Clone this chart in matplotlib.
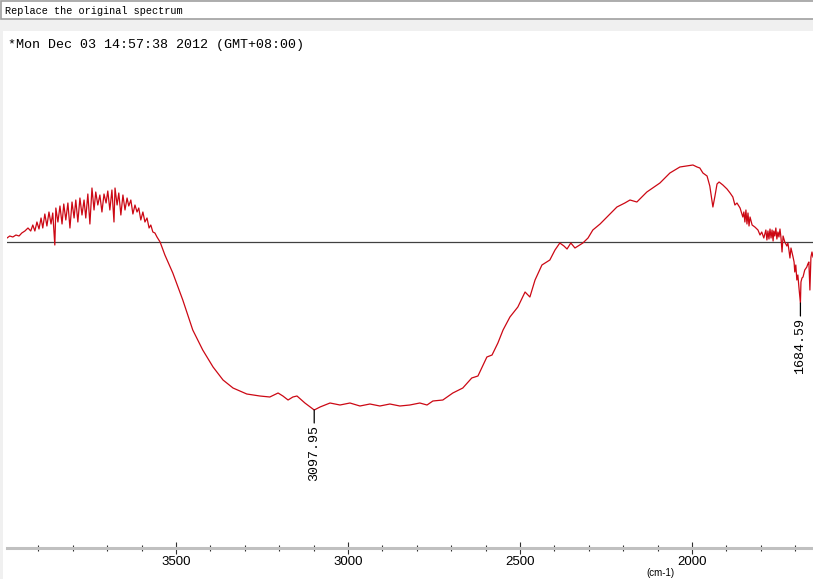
import matplotlib
matplotlib.use('Agg')
import matplotlib.pyplot as plt
from matplotlib.patches import Rectangle
from matplotlib.ticker import MultipleLocator

# spectrum (wavenumber, signal in arbitrary units)
wavenumber = [
    3991, 3983, 3974, 3965, 3956, 3948, 3939, 3930, 3922, 3916, 3910, 3904, 3898, 3892,
    3887, 3881, 3875, 3869, 3863, 3858, 3852, 3849, 3843, 3837, 3831, 3826, 3820, 3814,
    3808, 3802, 3796, 3791, 3785, 3779, 3773, 3767, 3762, 3756, 3750, 3744, 3738, 3733,
    3727, 3721, 3715, 3709, 3703, 3698, 3692, 3686, 3680, 3677, 3671, 3666, 3660, 3654,
    3648, 3642, 3637, 3631, 3625, 3619, 3613, 3608, 3602, 3596, 3590, 3584, 3578, 3573,
    3567, 3561, 3555, 3546,
    3532, 3509, 3480, 3451, 3422, 3392, 3363, 3334, 3294, 3256, 3227, 3203, 3189, 3174,
    3160, 3148, 3125, 3097.95, 3081, 3052, 3023, 2994, 2965, 2936, 2907, 2878, 2849, 2820,
    2791, 2770, 2753, 2724, 2695, 2666, 2640, 2622, 2596, 2581, 2564, 2549, 2529, 2506,
    2485, 2471, 2456, 2436, 2413, 2398, 2384, 2372, 2363, 2352, 2340, 2326, 2317, 2302,
    2288, 2267, 2247, 2218, 2195, 2180, 2160, 2131, 2093, 2064, 2035, 2015, 1997, 1985,
    1977, 1968, 1956, 1948, 1942, 1939, 1933, 1927, 1921, 1910, 1898, 1889, 1881, 1875,
    1869, 1860, 1852, 1849, 1846, 1843, 1840, 1837, 1834, 1831, 1825, 1817, 1808, 1802,
    1797, 1791, 1785, 1782, 1779, 1776, 1773, 1770, 1767, 1764, 1762, 1759, 1756, 1753,
    1750, 1747, 1744, 1741, 1738, 1735, 1730, 1724, 1721, 1718, 1715, 1712, 1706, 1703,
    1701, 1698, 1695, 1692, 1689, 1684.59, 1683, 1680, 1677, 1672, 1666, 1663, 1660, 1657,
    1654, 1651, 1648,
]
signal = [
    0.4, 0.6, 0.5, 0.7, 0.6, 0.9, 1.1, 1.4, 1.1, 1.7, 1.1, 2.0, 1.3, 2.4,
    1.4, 2.8, 1.6, 3.0, 1.8, 2.9, -0.3, 3.4, 2.0, 3.6, 1.8, 3.8, 2.2, 3.9,
    1.4, 4.0, 2.4, 4.2, 2.0, 4.4, 2.7, 4.2, 2.4, 4.8, 1.8, 5.4, 3.2, 5.0,
    3.7, 4.7, 3.0, 4.8, 3.9, 5.1, 3.2, 5.2, 2.0, 5.4, 3.7, 4.9, 2.7, 4.7,
    3.2, 4.4, 3.6, 4.2, 2.8, 3.7, 3.0, 3.4, 2.2, 3.0, 2.0, 2.4, 1.4, 1.7,
    1.0, 0.9, 0.5, 0.0,
    -1.3, -3.1, -5.8, -8.8, -10.8, -12.5, -13.8, -14.6, -15.2, -15.4, -15.5, -15.1, -15.4, -15.8,
    -15.5, -15.4, -16.1, -16.8, -16.5, -16.1, -16.3, -16.1, -16.4, -16.2, -16.4, -16.2, -16.4, -16.3,
    -16.1, -16.3, -15.9, -15.8, -15.1, -14.6, -13.6, -13.4, -11.5, -11.3, -10.1, -8.8, -7.5, -6.5,
    -5.0, -5.5, -3.8, -2.3, -1.8, -0.8, -0.1, -0.4, -0.7, -0.1, -0.6, -0.3, -0.1, 0.4,
    1.2, 1.8, 2.5, 3.5, 3.9, 4.2, 4.0, 5.0, 5.9, 6.9, 7.5, 7.6, 7.7, 7.5,
    7.4, 6.9, 6.6, 5.6, 4.2, 3.5, 4.6, 5.8, 6.0, 5.7, 5.3, 4.9, 4.5, 3.7,
    3.9, 3.4, 2.5, 3.0, 2.0, 3.2, 1.8, 2.9, 1.6, 2.5, 1.7, 1.5, 1.2, 0.7,
    1.0, 0.4, 1.2, 0.2, 1.1, 0.3, 1.3, 0.4, 1.2, 0.1, 1.1, 0.6, 1.4, 0.3,
    1.0, 0.5, 1.3, 0.4, -1.0, 0.6, 0.0, -0.4, -0.1, -0.8, -1.6, -0.6, -1.5, -2.0,
    -3.0, -2.3, -3.8, -3.3, -4.5, -6.1, -4.0, -3.6, -3.5, -2.8, -2.5, -2.2, -2.0, -4.8,
    -1.5, -1.0, -1.5,
]
peak_pos = [3097.95, 1684.59]
peak_val = [-16.8, -6.1]
peak_text = ['3097.95', '1684.59']

W, H = 813, 579
fig = plt.figure(figsize=(W / 100, H / 100), dpi=100)
fig.patch.set_facecolor('#f0f0f0')

# window chrome: title box and white plot panel (behind the axes)
fig.patches.append(Rectangle((3 / W, 0), 1, 1 - 31 / H, transform=fig.transFigure,
                             facecolor='white', edgecolor='none', zorder=-2))
fig.patches.append(Rectangle((1 / W, 1 - 19 / H), 1, 18 / H, transform=fig.transFigure,
                             facecolor='white', edgecolor='#a0a0a0', lw=1.2, zorder=-2))
fig.text(5 / W, 1 - 11 / H, 'Replace the original spectrum', family='Liberation Mono',
         fontsize=7.4, va='center', ha='left')
fig.text(8 / W, 1 - 45 / H, '*Mon Dec 03 14:57:38 2012 (GMT+08:00)', family='Liberation Mono',
         fontsize=9.6, va='center', ha='left')

ax = fig.add_axes([7 / W, 31 / H, (W - 7) / W, (548 - 30) / H])
ax.set_zorder(3)
ax.patch.set_alpha(0)
ax.plot(wavenumber, signal, color='#cc0814', lw=0.9)
ax.axhline(0, color='#404040', lw=0.9, zorder=1)

for pos, val, txt in zip(peak_pos, peak_val, peak_text):
    ax.annotate('', xy=(pos, val), xytext=(0, -13), textcoords='offset pixels',
                arrowprops=dict(arrowstyle='-', color='black', lw=0.9, shrinkA=0, shrinkB=0))
    ax.annotate(txt, xy=(pos, val), xytext=(0, -15), textcoords='offset pixels',
                rotation=90, ha='center', va='top', family='Liberation Mono', fontsize=9.6)

ax.set_xlim(3991, 1648)
ax.set_ylim(-30.6, 21.2)
for side in ['top', 'left', 'right']:
    ax.spines[side].set_visible(False)
ax.spines['bottom'].set_color('#c0c0c0')
ax.spines['bottom'].set_linewidth(2.2)
ax.set_yticks([])
ax.xaxis.set_major_locator(MultipleLocator(500))
ax.xaxis.set_minor_locator(MultipleLocator(100))
ax.tick_params(axis='x', which='major', direction='inout', length=8, width=0.8,
               color='#303030', pad=2, labelsize=9.5)
ax.tick_params(axis='x', which='minor', direction='inout', length=5, width=0.8, color='#303030')
for lab in ax.get_xticklabels():
    lab.set_family('Liberation Sans')

fig.text(660 / W, 1 / H, '(cm-1)', family='Liberation Sans',
         fontsize=7, ha='center', va='bottom')

fig.savefig('out.png', dpi=100)
